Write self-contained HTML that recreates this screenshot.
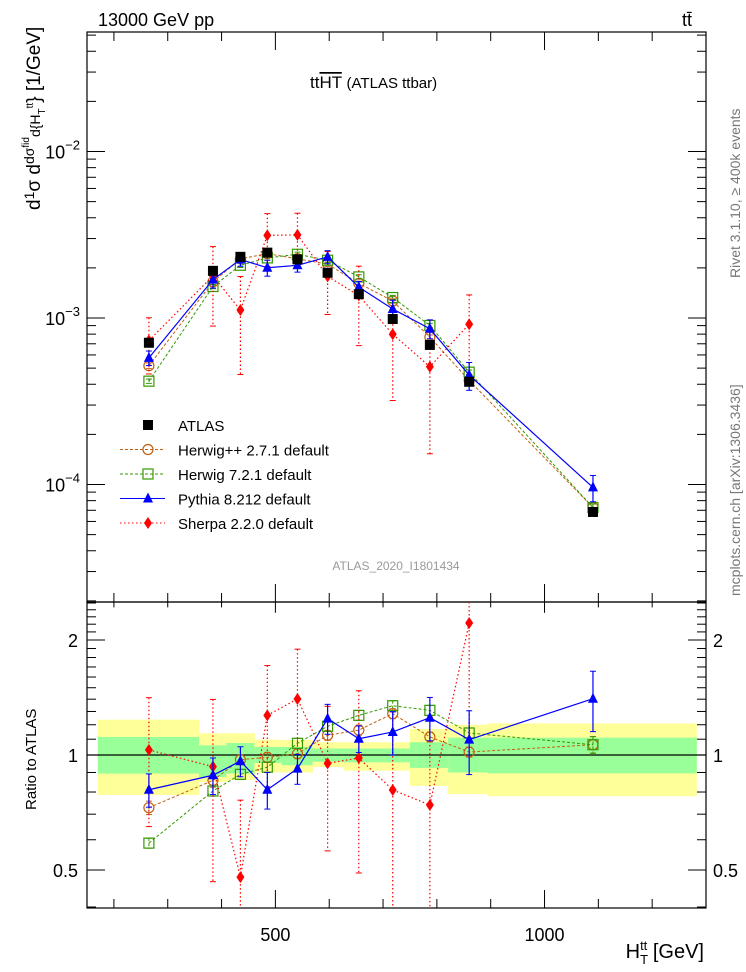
<!DOCTYPE html>
<html><head><meta charset="utf-8"><style>
body{margin:0;background:#fff;width:746px;height:972px;overflow:hidden}
svg{display:block;font-family:"Liberation Sans",sans-serif}
</style></head><body>
<svg id="c" width="746" height="972" viewBox="0 0 746 972">
<text x="98" y="26" font-size="18">13000 GeV pp</text>
<text x="682" y="26" font-size="18">tt̄</text>
<text x="310" y="88" font-size="17">tt<tspan text-decoration="overline">HT</tspan> <tspan font-size="15">(ATLAS ttbar)</tspan></text>
<text x="396" y="570" font-size="12" fill="#999" text-anchor="middle">ATLAS_2020_I1801434</text>
<text transform="translate(740,278) rotate(-90)" font-size="14" fill="#777">Rivet 3.1.10, ≥ 400k events</text>
<text transform="translate(740,596) rotate(-90)" font-size="14" fill="#777">mcplots.cern.ch [arXiv:1306.3436]</text>
<text transform="translate(40,210) rotate(-90)" font-size="19">d<tspan font-size="14" dy="-6">1</tspan><tspan dy="6">σ</tspan> d<tspan font-size="14" dy="-6">dσ</tspan><tspan font-size="10" dy="-5">fid</tspan><tspan dy="11" font-size="14">d{H</tspan><tspan font-size="10" dy="5">T</tspan><tspan font-size="10" dy="-12">tt</tspan><tspan dy="7">} [1/GeV]</tspan></text>
<text transform="translate(36,810) rotate(-90)" font-size="15">Ratio to ATLAS</text>
<text x="704" y="958" font-size="20" text-anchor="end">H<tspan font-size="13" dy="6">T</tspan><tspan font-size="13" dx="-8" dy="-14">tt</tspan><tspan dy="8"> [GeV]</tspan></text>
<g id="g"></g>
</svg>
<script>
const edges=[170,358,409,461,511,569,627,687,750,821,894,1282];
const centers=[265,384,435,485,541,597,655,718,787,860,1090];
const atlasVals=[7.1e-4,1.92e-3,2.33e-3,2.47e-3,2.25e-3,1.87e-3,1.39e-3,9.86e-4,6.89e-4,4.14e-4,6.84e-5];
const herwigppRatio=[0.728,0.858,0.972,0.986,1.008,1.126,1.162,1.283,1.115,1.018,1.064];
const herwig7Ratio=[0.588,0.805,0.890,0.929,1.073,1.189,1.270,1.346,1.309,1.142,1.064];
const pythiaRatio=[0.811,0.885,0.964,0.811,0.921,1.245,1.103,1.149,1.252,1.097,1.404];
const sherpaRatio=[1.031,0.932,0.479,1.27,1.402,0.951,0.982,0.81,0.74,2.216];
const herwigppErr=[0.04,0.04,0.03,0.03,0.03,0.03,0.03,0.03,0.03,0.03,0.05];
const herwig7Err=[0.03,0.03,0.03,0.03,0.03,0.03,0.03,0.03,0.03,0.03,0.05];
const pythiaErr=[0.1,0.11,0.09,0.11,0.09,0.09,0.08,0.13,0.13,0.19,0.18];
const sherpaErr=[0.37,0.5,0.59,0.35,0.35,0.41,0.5,0.6,0.7,0.5];
const yellowHi=[1.237,1.14,1.14,1.097,1.095,1.08,1.08,1.08,1.17,1.2,1.21];
const yellowLo=[0.786,0.85,0.86,0.90,0.90,0.93,0.91,0.91,0.83,0.79,0.78];
const greenHi=[1.115,1.06,1.075,1.05,1.05,1.04,1.04,1.04,1.08,1.11,1.11];
const greenLo=[0.894,0.876,0.894,0.953,0.94,0.96,0.957,0.957,0.925,0.90,0.895];
const mainTicks=["10^-2","10^-3","10^-4"];
const ratioTicks=[0.5,1,2];
const xTicks=[500,1000];

const NS="http://www.w3.org/2000/svg";
const g=document.getElementById('g');
const L=87,R=706,T=32,M=602,B=908;
const X=v=>L+(v-150)*(R-L)/1150;
const Ym=v=>318-166.5*(Math.log10(v)+3);
const Yr=v=>755-382*Math.log10(v);
function el(t,a,p){const e=document.createElementNS(NS,t);for(const k in a)e.setAttribute(k,a[k]);(p||g).appendChild(e);return e;}

for(let i=0;i<centers.length;i++){
  const r1=el('rect',{x:X(edges[i]),y:Yr(yellowHi[i]),width:X(edges[i+1])-X(edges[i])+0.5,height:Yr(yellowLo[i])-Yr(yellowHi[i]),fill:'#ffff99'});
  
  
  const r2=el('rect',{x:X(edges[i]),y:Yr(greenHi[i]),width:X(edges[i+1])-X(edges[i])+0.5,height:Yr(greenLo[i])-Yr(greenHi[i]),fill:'#99ff99'});
  
  
}
el('line',{x1:L,x2:R,y1:Yr(1),y2:Yr(1),stroke:'#000','stroke-width':1.2});

const f1=el('rect',{x:L,y:T,width:R-L,height:M-T,fill:'none',stroke:'#000','stroke-width':1.2});


const f2=el('rect',{x:L,y:M,width:R-L,height:B-M,fill:'none',stroke:'#000','stroke-width':1.2});



for(let v=200;v<=1300;v+=100){
  const big=xTicks.includes(v), h=big?18:9, x=X(v);
  [[T,T+h],[M,M-h],[M,M+h*0.6],[B,B-h]].forEach(([a,b])=>el('line',{x1:x,x2:x,y1:a,y2:b,stroke:'#000'}));
}
xTicks.forEach(v=>{const t=el('text',{x:X(v),y:941,'font-size':18,'text-anchor':'middle'});t.textContent=v;
 
 });
for(let d=-5;d<=-2;d++)for(let m=1;m<10;m++){const v=m*Math.pow(10,d),y=Ym(v);if(y<T||y>M)continue;const h=m==1?18:9;
 el('line',{x1:L,x2:L+h,y1:y,y2:y,stroke:'#000'});el('line',{x1:R,x2:R-h,y1:y,y2:y,stroke:'#000'});}
mainTicks.forEach(s=>{const e=+s.split('^')[1];const t=el('text',{x:80,y:Ym(Math.pow(10,e))+7,'font-size':18,'text-anchor':'end'});
 t.innerHTML='10<tspan font-size="13" dy="-9">'+e.toString().replace('-','−')+'</tspan>';
 
 });
const rt=[0.4,0.5,0.6,0.7,0.8,0.9,1,1.1,1.2,1.3,1.4,1.5,1.6,1.7,1.8,1.9,2,2.1,2.2,2.3,2.4,2.5];
rt.forEach(v=>{const y=Yr(v);if(y<M||y>B)return;const h=ratioTicks.includes(v)?18:9;
 el('line',{x1:L,x2:L+h,y1:y,y2:y,stroke:'#000'});el('line',{x1:R,x2:R-h,y1:y,y2:y,stroke:'#000'});});
ratioTicks.forEach(v=>{[[78,'end'],[713,'start']].forEach(([x,a])=>{const t=el('text',{x:x,y:Yr(v)+7,'font-size':18,'text-anchor':a});t.textContent=v;
 
 });});

function marker(type,x,y,col,name){
  let e;
  if(type=='sq')e=el('rect',{x:x-5,y:y-5,width:10,height:10,fill:'#000'});
  else if(type=='osq')e=el('rect',{x:x-5,y:y-5,width:10,height:10,fill:'#fff','fill-opacity':0,stroke:col,'stroke-width':1.2});
  else if(type=='circ')e=el('circle',{cx:x,cy:y,r:5,fill:'none',stroke:col,'stroke-width':1.2});
  else if(type=='tri')e=el('polygon',{points:`${x},${y-6} ${x-5},${y+4} ${x+5},${y+4}`,fill:col});
  else e=el('polygon',{points:`${x},${y-6} ${x+4},${y} ${x},${y+6} ${x-4},${y}`,fill:col});
  
  
}
function series(ratios,errs,col,dash,type,name,lw){
  const n=ratios.length;
  [[Ym,i=>ratios[i]*atlasVals[i],T,M],[Yr,i=>ratios[i],M,B]].forEach(([Y,val,top,bot])=>{
    const pts=[];
    for(let i=0;i<n;i++){const x=X(centers[i]),v=val(i);
      const y1=Math.max(top,Math.min(bot,Y(v*(1+errs[i])))),y2=Math.max(top,Math.min(bot,Y(v*Math.max(0.01,1-errs[i]))));
      el('line',{x1:x,x2:x,y1:y1,y2:y2,stroke:col,'stroke-dasharray':dash,'stroke-width':lw});
      if(y1>top)el('line',{x1:x-3,x2:x+3,y1:y1,y2:y1,stroke:col});
      if(y2<bot)el('line',{x1:x-3,x2:x+3,y1:y2,y2:y2,stroke:col});
      pts.push([x,Y(v)]);}
    const pl=el('polyline',{points:pts.map(p=>p.join(',')).join(' '),fill:'none',stroke:col,'stroke-dasharray':dash,'stroke-width':lw});
    
    
    pts.forEach(p=>{if(p[1]>=top&&p[1]<=bot)marker(type,p[0],p[1],col,name+'-point');});
  });
}
series(herwigppRatio,herwigppErr,'#c06010','3,2','circ','herwigpp',1);
series(herwig7Ratio,herwig7Err,'#339900','3,2','osq','herwig7',1);
series(sherpaRatio,sherpaErr,'#ff0000','1.5,2.5','dia','sherpa',1.2);
series(pythiaRatio,pythiaErr,'#0000ff','none','tri','pythia',1.2);
atlasVals.forEach((v,i)=>marker('sq',X(centers[i]),Ym(v),'#000','atlas-point'));

const leg=[['sq','#000','ATLAS','none'],['circ','#c06010','Herwig++ 2.7.1 default','3,2'],['osq','#339900','Herwig 7.2.1 default','3,2'],['tri','#0000ff','Pythia 8.212 default','none'],['dia','#ff0000','Sherpa 2.2.0 default','1.5,2.5']];
leg.forEach((l,i)=>{const y=425+i*24.5;
  if(i>0)el('line',{x1:120,x2:165,y1:y,y2:y,stroke:l[1],'stroke-dasharray':l[3]});
  marker(l[0],148,y,l[1],'legend-marker');
  const t=el('text',{x:178,y:y+6,'font-size':15});t.textContent=l[2];
  
  });
</script>
</body></html>
